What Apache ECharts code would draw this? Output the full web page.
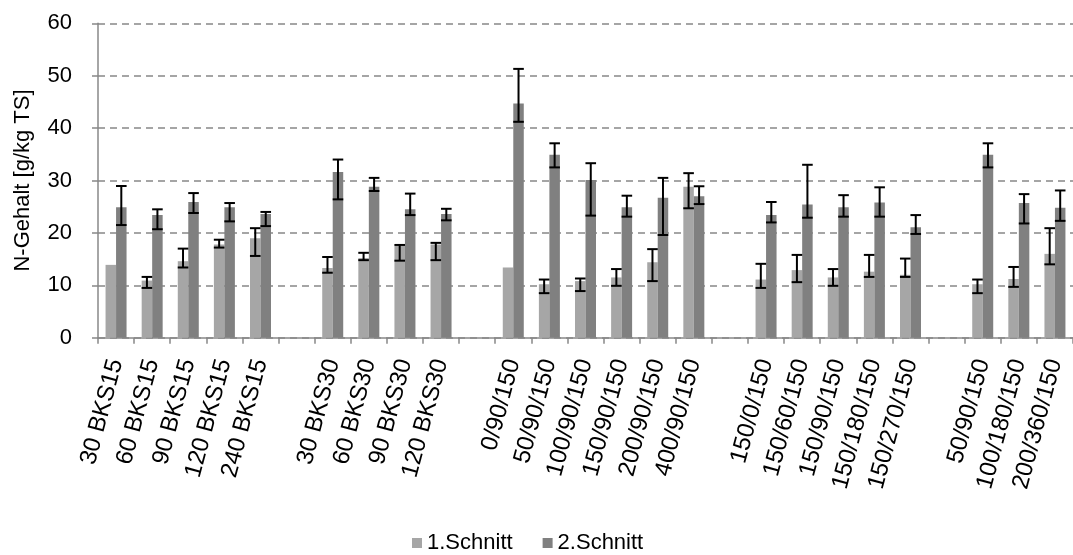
<!DOCTYPE html>
<html><head><meta charset="utf-8">
<script src="https://cdn.jsdelivr.net/npm/echarts@6/dist/echarts.min.js"></script>
<style>html,body{margin:0;padding:0;background:#fff}#c{width:1073px;height:555px}</style>
</head><body><div id="c"></div>
<script>
const categories = ['30 BKS15','60 BKS15','90 BKS15','120 BKS15','240 BKS15','',
  '30 BKS30','60 BKS30','90 BKS30','120 BKS30','',
  '0/90/150','50/90/150','100/90/150','150/90/150','200/90/150','400/90/150','',
  '150/0/150','150/60/150','150/90/150','150/180/150','150/270/150','',
  '50/90/150','100/180/150','200/360/150'];
const yTicks = [0, 10, 20, 30, 40, 50, 60];
const seriesNames = ['1.Schnitt', '2.Schnitt'];

const schnitt1 = [13.9,10.9,14.6,17.8,19.0,null, 13.3,15.2,17.5,17.8,null, 13.4,10.2,10.8,11.5,14.4,28.8,null, 11.1,12.9,11.5,12.6,12.0,null, 10.2,11.2,16.0];
const schnitt1Low = [null,9.5,13.4,17.2,15.6,null, 12.4,14.8,14.7,14.8,null, null,8.5,8.9,9.9,10.8,24.7,null, 9.5,10.6,9.9,11.6,11.6,null, 8.5,9.7,14.0];
const schnitt1High = [null,11.6,17.0,18.7,20.9,null, 15.4,16.2,17.7,18.1,null, null,11.1,11.3,13.1,16.9,31.4,null, 14.1,15.8,13.1,15.8,15.1,null, 11.1,13.5,20.9];

const schnitt2 = [24.9,23.4,25.9,24.9,23.6,null, 31.6,28.8,24.5,23.6,null, 44.7,34.9,30.1,24.9,26.7,27.0,null, 23.4,25.4,24.9,25.8,21.1,null, 34.9,25.7,24.8];
const schnitt2Low = [21.5,20.7,23.8,22.2,21.3,null, 26.4,28.0,23.4,22.4,null, 41.2,32.5,23.3,23.1,19.6,25.5,null, 22.0,22.9,23.1,23.1,19.8,null, 32.5,21.8,22.3];
const schnitt2High = [28.95,24.5,27.6,25.7,24.0,null, 34.0,30.5,27.5,24.6,null, 51.3,37.1,33.3,27.1,30.5,28.9,null, 25.9,33.0,27.2,28.7,23.4,null, 37.1,27.4,28.1];

const BAR_W = 10.5;
const FONT = 'Liberation Sans, Arial, sans-serif';

function errData(lo, hi) {
  const out = [];
  for (let i = 0; i < categories.length; i++) {
    if (lo[i] != null && hi[i] != null) out.push([i, lo[i], hi[i]]);
  }
  return out;
}
function errRender(offset) {
  return function (params, api) {
    const i = api.value(0);
    const p1 = api.coord([i, api.value(1)]);
    const p2 = api.coord([i, api.value(2)]);
    const x = p1[0] + offset;
    const cw = 5.3;
    const st = { stroke: '#000', lineWidth: 2 };
    return { type: 'group', children: [
      { type: 'line', shape: { x1: x, y1: p1[1], x2: x, y2: p2[1] }, style: st },
      { type: 'line', shape: { x1: x - cw, y1: p1[1], x2: x + cw, y2: p1[1] }, style: st },
      { type: 'line', shape: { x1: x - cw, y1: p2[1], x2: x + cw, y2: p2[1] }, style: st }
    ]};
  };
}

const chart = echarts.init(document.getElementById('c'));
chart.setOption({
  animation: false,
  backgroundColor: '#fff',
  textStyle: { fontFamily: FONT },
  grid: { left: 98, top: 23.3, width: 980, height: 314.4 },
  legend: {
    data: seriesNames, left: 407, top: 527, icon: 'rect', itemWidth: 10, itemHeight: 10, itemGap: 30,
    textStyle: { fontSize: 22, color: '#000', fontFamily: FONT }
  },
  xAxis: {
    type: 'category', data: categories,
    axisLine: { lineStyle: { color: '#888', width: 1.5 } },
    axisTick: { show: true, alignWithLabel: false, interval: 0, length: 6, lineStyle: { color: '#888', width: 1.5 } },
    axisLabel: { interval: 0, rotate: 75, margin: 22, fontSize: 24, color: '#000', fontFamily: FONT }
  },
  yAxis: {
    type: 'value', min: yTicks[0], max: yTicks[yTicks.length - 1], interval: 10,
    name: 'N-Gehalt [g/kg TS]', nameLocation: 'middle', nameGap: 64,
    nameTextStyle: { fontSize: 22, color: '#000', fontFamily: FONT },
    axisLine: { show: true, lineStyle: { color: '#888', width: 1.5 } },
    axisTick: { show: true, length: 6, lineStyle: { color: '#888', width: 1.5 } },
    axisLabel: { fontSize: 22, color: '#000', margin: 26, fontFamily: FONT },
    splitLine: { show: true, lineStyle: { color: '#888', width: 1.5, type: [7, 5] } }
  },
  series: [
    { name: seriesNames[0], type: 'bar', data: schnitt1, barWidth: BAR_W, barGap: '0%', itemStyle: { color: '#A6A6A6' } },
    { name: seriesNames[1], type: 'bar', data: schnitt2, barWidth: BAR_W, barGap: '0%', itemStyle: { color: '#808080' } },
    { type: 'custom', silent: true, z: 10, renderItem: errRender(-BAR_W / 2), data: errData(schnitt1Low, schnitt1High), encode: { x: 0, y: [1, 2] } },
    { type: 'custom', silent: true, z: 10, renderItem: errRender(BAR_W / 2), data: errData(schnitt2Low, schnitt2High), encode: { x: 0, y: [1, 2] } }
  ]
});
</script></body></html>
